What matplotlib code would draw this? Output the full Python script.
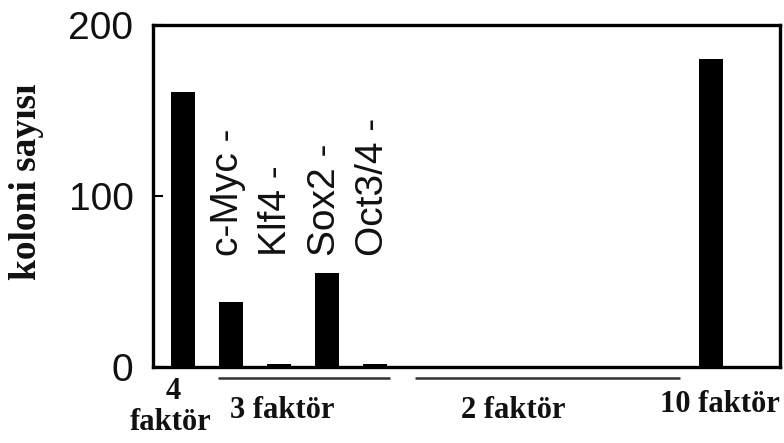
import matplotlib.pyplot as plt
import matplotlib.transforms as mtransforms

# colony counts per transduced factor combination
groups = ['4 faktör', 'c-Myc', 'Klf4', 'Sox2', 'Oct3/4',
          '2f-1', '2f-2', '2f-3', '2f-4', '2f-5', '2f-6', '10 faktör']
counts = [161, 38, 2, 55, 2, 0, 0, 0, 0, 0, 0, 180]
removed = ['c-Myc -', 'Klf4 -', 'Sox2 -', 'Oct3/4 -']
yticks = [0, 100, 200]

serif = 'Liberation Serif'
sans = 'Liberation Sans'
ink = '#111111'

fig = plt.figure(figsize=(7.84, 4.43), dpi=100)
ax = fig.add_axes([0.195, 0.1716, 0.8, 0.772])

xs = list(range(len(counts)))
ax.bar(xs, counts, width=0.5, color='black')

ax.set_xlim(-0.625, 12.44)
ax.set_ylim(0, 200)
ax.set_yticks(yticks)
ax.set_yticklabels([str(t) for t in yticks], fontfamily=sans, fontsize=28, color=ink)
ax.tick_params(axis='y', direction='in', length=7, width=1.5, pad=14)
ax.set_xticks([])
for sp in ax.spines.values():
    sp.set_linewidth(2.4)
    sp.set_color('black')

ax.set_ylabel('koloni sayısı', fontfamily=serif, fontweight='bold', fontsize=27,
              color=ink, va='center')
ax.yaxis.set_label_coords(-0.201, 0.54)

# names of the dropped factor above each 3-factor bar
for i, name in enumerate(removed):
    ax.text(xs[i + 1] - 0.05, 65, name, rotation=90, ha='center', va='bottom',
            fontfamily=sans, fontsize=28, color=ink)

# group brackets and captions under the axis
trans = mtransforms.blended_transform_factory(ax.transData, ax.transAxes)
ax.plot([0.73, 4.31], [-0.032, -0.032], transform=trans, clip_on=False,
        color='#333333', lw=1.8, solid_capstyle='butt')
ax.plot([4.83, 10.35], [-0.032, -0.032], transform=trans, clip_on=False,
        color='#333333', lw=1.8, solid_capstyle='butt')

cap = dict(transform=trans, fontfamily=serif, fontweight='bold', fontsize=22,
           color=ink, ha='center', va='center')
ax.text(-0.2, -0.073, '4', **cap)
ax.text(-0.25, -0.163, 'faktör', **cap)
ax.text(2.08, -0.126, '3 faktör', **cap)
ax.text(6.875, -0.126, '2 faktör', **cap)
ax.text(11.19, -0.111, '10 faktör', **cap)

fig.savefig('out.png', dpi=100)
